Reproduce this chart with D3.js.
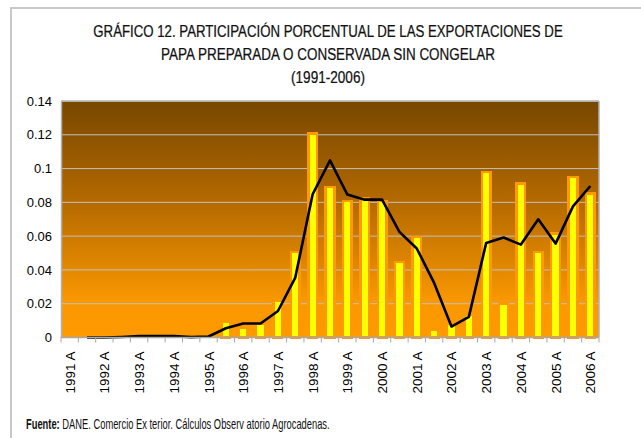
<!DOCTYPE html>
<html><head><meta charset="utf-8">
<script src="https://cdn.jsdelivr.net/npm/d3@7"></script>
<style>body{margin:0;background:#fff}svg{display:block}</style>
</head><body>
<svg id="c" width="641" height="438"></svg>
<script>
const categories = ["1991 A","1991 B","1992 A","1992 B","1993 A","1993 B","1994 A","1994 B","1995 A","1995 B","1996 A","1996 B","1997 A","1997 B","1998 A","1998 B","1999 A","1999 B","2000 A","2000 B","2001 A","2001 B","2002 A","2002 B","2003 A","2003 B","2004 A","2004 B","2005 A","2005 B","2006 A"];
const barValues = [0,0,0,0,0.0005,0.0012,0.0008,0.0002,0.0003,0.0092,0.006,0.0083,0.0217,0.0507,0.1207,0.0891,0.0808,0.0822,0.0808,0.0446,0.0595,0.0043,0.008,0.0136,0.098,0.0197,0.0911,0.0507,0.0615,0.095,0.0852];
const lineValues = [null,0,0,0.0003,0.0008,0.0009,0.0008,0.0002,0.0006,0.0055,0.0083,0.0083,0.0157,0.0355,0.0848,0.1049,0.0846,0.0816,0.0816,0.0625,0.0527,0.0323,0.0065,0.0122,0.056,0.0592,0.055,0.070,0.0556,0.0776,0.0897];
const yTicks = [0,0.02,0.04,0.06,0.08,0.1,0.12,0.14];
const titleLines = ["GRÁFICO 12. PARTICIPACIÓN PORCENTUAL DE LAS EXPORTACIONES DE","PAPA PREPARADA O CONSERVADA SIN CONGELAR","(1991-2006)"];

const svg = d3.select("#c");
const L=61,R=599,T=101,B=337.5;
const x = d3.scaleBand().domain(categories).range([L,R]).paddingInner(0.5).paddingOuter(0.25);
const y = d3.scaleLinear().domain([0,0.14]).range([B,T]);

// outer frame
svg.append("rect").attr("x",11).attr("y",8).attr("width",700).attr("height",500)
  .attr("fill","#fff").attr("stroke","#c8c8c8").attr("stroke-width",2);

// gradient
const defs = svg.append("defs");
const g = defs.append("linearGradient").attr("id","bg").attr("x1",0).attr("y1",0).attr("x2",0).attr("y2",1);
g.append("stop").attr("offset","0%").attr("stop-color","#774700");
g.append("stop").attr("offset","45%").attr("stop-color","#b86c00");
g.append("stop").attr("offset","85%").attr("stop-color","#fa9800");
g.append("stop").attr("offset","100%").attr("stop-color","#ff9a00");
svg.append("rect").attr("x",L).attr("y",T).attr("width",R-L).attr("height",B-T).attr("fill","url(#bg)");

// gridlines
svg.append("g").selectAll("line").data(yTicks.filter(d=>d>0)).join("line")
  .attr("x1",L).attr("x2",R).attr("y1",d=>y(d)).attr("y2",d=>y(d))
  .attr("stroke","#c0c0c0").attr("stroke-width",1);

// plot border
svg.append("line").attr("x1",L).attr("x2",R).attr("y1",T).attr("y2",T).attr("stroke","#bdbdbd").attr("stroke-width",1.5);
svg.append("line").attr("x1",R).attr("x2",R).attr("y1",T).attr("y2",B).attr("stroke","#b0b0b0").attr("stroke-width",1.5);

// bars
svg.append("g").selectAll("rect").data(barValues).join("rect")
  .attr("x",(d,i)=>x(categories[i]))
  .attr("y",d=>y(d))
  .attr("width",x.bandwidth())
  .attr("height",d=>B-y(d))
  .attr("fill","#ffff00")
  .attr("stroke","#ff9900").attr("stroke-width",d=>d>0.002?2.4:0)
  .attr("shape-rendering","crispEdges");

// line
const line = d3.line().defined(d=>d!=null)
  .x((d,i)=>x(categories[i])+x.bandwidth()/2).y(d=>y(d));
svg.append("path").datum(lineValues).attr("d",line)
  .attr("fill","none").attr("stroke","#000").attr("stroke-width",2.6).attr("stroke-linejoin","round");

// y axis
const yAxis = svg.append("g").attr("transform",`translate(${L},0)`)
  .call(d3.axisLeft(y).tickValues(yTicks).tickSize(0).tickPadding(9).tickFormat(d=>String(+d.toFixed(2))));
yAxis.select(".domain").attr("stroke","#b0b0b0").attr("stroke-width",1.5);
yAxis.selectAll("text").attr("font-family","Liberation Sans, Arial, sans-serif").attr("font-size",13).attr("fill","#000");

// x axis
svg.append("line").attr("x1",L).attr("x2",R).attr("y1",B).attr("y2",B).attr("stroke","#a8a8a8").attr("stroke-width",1.5);
const bounds = categories.map(c=>x(c)-x.step()*x.paddingInner()/2).concat([R]);
svg.append("g").selectAll("line").data(bounds).join("line")
  .attr("x1",d=>d).attr("x2",d=>d).attr("y1",B).attr("y2",B+5)
  .attr("stroke","#a8a8a8").attr("stroke-width",1);
svg.append("g").selectAll("text").data(categories.filter(c=>c.endsWith("A"))).join("text")
  .attr("transform",c=>`translate(${x(c)+x.bandwidth()/2+5},${B+14}) rotate(-90)`)
  .attr("text-anchor","end")
  .attr("font-family","Liberation Sans, Arial, sans-serif").attr("font-size",13.5)
  .text(c=>c);

// title (condensed by horizontal scaling to mimic Arial Narrow)
const tf = "'Liberation Sans',Arial,sans-serif";
const tw = [470,334,74];
titleLines.forEach((t,i)=>{
  const grp = svg.append("g");
  const tx = grp.append("text").attr("x",0).attr("y",0).attr("text-anchor","middle")
    .attr("font-family",tf).attr("font-size",17).attr("fill","#111")
    .attr("stroke","#111").attr("stroke-width",0.25).text(t);
  const w = tx.node().getComputedTextLength();
  grp.attr("transform",`translate(328,${37+i*23}) scale(${tw[i]/w},1)`);
});

// footer
const fg = svg.append("g");
const ft = fg.append("text").attr("x",0).attr("y",0).attr("font-family",tf).attr("font-size",14).attr("fill","#111");
ft.append("tspan").attr("font-weight","bold").text("Fuente:");
ft.append("tspan").text(" DANE. Comercio Ex terior. Cálculos Observ atorio Agrocadenas.");
const fw = ft.node().getComputedTextLength();
fg.attr("transform",`translate(26,429) scale(${304/fw},1)`);
</script>
</body></html>
